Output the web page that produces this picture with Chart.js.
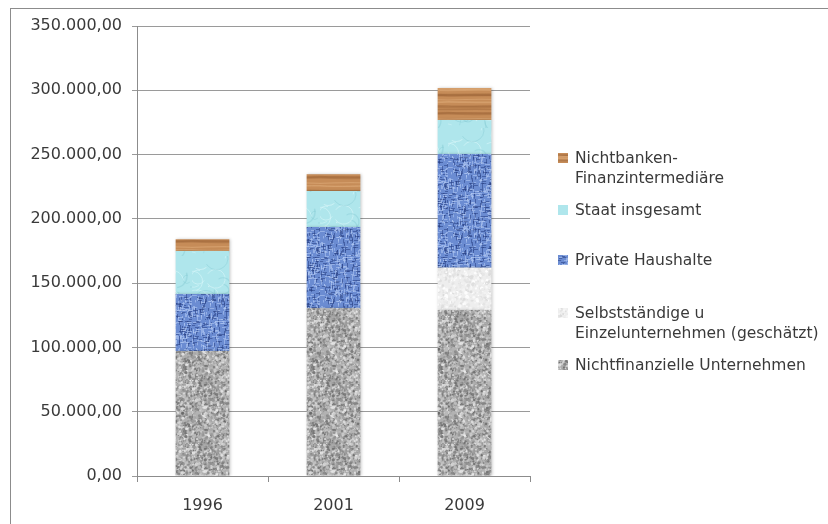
<!DOCTYPE html>
<html>
<head>
<meta charset="utf-8">
<script src="https://cdn.jsdelivr.net/npm/chart.js@4"></script>
<style>
  html, body { margin: 0; padding: 0; background: #fff; overflow: hidden; }
  #wrap { position: relative; width: 828px; height: 524px; }
  #frame { position: absolute; left: 10px; top: 8px; width: 830px; height: 530px; border: 1px solid #8c8c8c; box-sizing: border-box; }
  #chart { position: absolute; left: 0; top: 0; }
  .legend-item { position: absolute; left: 558px; font: 15.5px "DejaVu Sans", sans-serif; color: #3a3a3a; line-height: 20px; white-space: nowrap; }
  .legend-item .box { position: absolute; left: 0; top: 5px; width: 10px; height: 10px; }
  .legend-item .txt { margin-left: 17px; }
</style>
</head>
<body>
<div id="wrap">
  <div id="frame"></div>
  <canvas id="chart" width="828" height="524"></canvas>
  <div id="legend"></div>
</div>
<script>
const years = ['1996', '2001', '2009']
const seriesNames = [
  'Nichtfinanzielle Unternehmen',
  'Selbstständige u\nEinzelunternehmen (geschätzt)',
  'Private Haushalte',
  'Staat insgesamt',
  'Nichtbanken-\nFinanzintermediäre',
]
const nichtfinanzielle = [97200, 130500, 129100]
const selbststaendige = [0, 0, 32900]
const privateHaushalte = [44300, 63200, 88400]
const staat = [33500, 28000, 26500]
const nichtbanken = [9100, 12900, 24900]
const yTicks = [0, 50000, 100000, 150000, 200000, 250000, 300000, 350000]

// legend line tops (layout only)
const legendTops = [355, 303, 250, 200, 148]

// deterministic pseudo noise for the textures
let seed = 12345
function rnd() { seed = (seed * 16807) % 2147483647; return seed / 2147483647 }

function makeTexture(kind) {
  const c = document.createElement('canvas')
  c.width = 64; c.height = 64
  const g = c.getContext('2d')
  if (kind === 'granite') {
    g.fillStyle = '#b2b2b2'; g.fillRect(0, 0, 64, 64)
    for (let i = 0; i < 1800; i++) {
      const v = Math.floor(100 + rnd() * 140)
      g.fillStyle = `rgba(${v},${v},${v},0.8)`
      g.beginPath(); g.arc(rnd() * 64, rnd() * 64, 0.5 + rnd() * 1.2, 0, Math.PI * 2); g.fill()
    }
  } else if (kind === 'marble') {
    g.fillStyle = '#eeeeee'; g.fillRect(0, 0, 64, 64)
    for (let i = 0; i < 900; i++) {
      const v = Math.floor(218 + rnd() * 37)
      g.fillStyle = `rgb(${v},${v},${v})`
      g.beginPath(); g.arc(rnd() * 64, rnd() * 64, 0.5 + rnd() * 1.3, 0, Math.PI * 2); g.fill()
    }
  } else if (kind === 'linen') {
    g.fillStyle = '#6b8cd2'; g.fillRect(0, 0, 64, 64)
    for (let i = 0; i < 700; i++) {
      const x = Math.floor(rnd() * 64), y = Math.floor(rnd() * 64)
      const d = rnd()
      g.fillStyle = d < 0.45 ? 'rgba(38,62,130,0.55)' : 'rgba(175,198,242,0.6)'
      if (rnd() < 0.5) g.fillRect(x, y, 2 + rnd() * 3, 1)
      else g.fillRect(x, y, 1, 2 + rnd() * 3)
    }
  } else if (kind === 'water') {
    g.fillStyle = '#afe6ec'; g.fillRect(0, 0, 64, 64)
    for (let i = 0; i < 30; i++) {
      g.strokeStyle = rnd() < 0.6 ? 'rgba(225,250,252,0.55)' : 'rgba(130,200,210,0.4)'
      g.lineWidth = 0.7 + rnd() * 0.8
      g.beginPath()
      g.arc(rnd() * 64, rnd() * 64, 4 + rnd() * 10, rnd() * 6, rnd() * 6 + 1)
      g.stroke()
    }
  } else if (kind === 'wood') {
    g.fillStyle = '#c68c58'; g.fillRect(0, 0, 64, 64)
    for (let i = 0; i < 30; i++) {
      const y = rnd() * 64
      g.strokeStyle = rnd() < 0.6 ? 'rgba(155,100,55,0.45)' : 'rgba(225,175,125,0.5)'
      g.lineWidth = 0.8 + rnd() * 1.3
      g.beginPath()
      g.moveTo(0, y)
      g.bezierCurveTo(20, y + rnd() * 3 - 1.5, 40, y + rnd() * 3 - 1.5, 64, y)
      g.stroke()
    }
  }
  return c
}

const textures = ['granite', 'marble', 'linen', 'water', 'wood'].map(makeTexture)
const ctx = document.getElementById('chart').getContext('2d')
const fills = textures.map(t => ctx.createPattern(t, 'repeat'))

const seriesValues = [nichtfinanzielle, selbststaendige, privateHaushalte, staat, nichtbanken]

function deNumber(v) {
  const parts = v.toFixed(2).split('.')
  const int = parts[0].replace(/\B(?=(\d{3})+(?!\d))/g, '.')
  return int + ',' + parts[1]
}

const chartData = {
  labels: years,
  datasets: seriesValues.map((vals, i) => ({
    label: seriesNames[i].replace('-\n', '-').replace('\n', ' '),
    data: vals,
    backgroundColor: fills[i],
    borderWidth: 0,
  }))
}

const barShadow = {
  id: 'barShadow',
  beforeDatasetsDraw(chart) {
    const c = chart.ctx
    c.save()
    c.shadowColor = 'rgba(0,0,0,0.22)'
    c.shadowBlur = 3
    c.shadowOffsetX = 1
  },
  afterDatasetsDraw(chart) { chart.ctx.restore() }
}

const tickFont = { family: 'DejaVu Sans', size: 16 }

new Chart(ctx, {
  type: 'bar',
  data: chartData,
  plugins: [barShadow],
  options: {
    responsive: false,
    animation: false,
    categoryPercentage: 1,
    barPercentage: 0.41,
    layout: { padding: { left: 0, right: 298, top: 26, bottom: 0 } },
    scales: {
      x: {
        stacked: true,
        afterFit: s => { s.height = 48 },
        grid: { offset: true, drawOnChartArea: false, tickLength: 6, color: '#8c8c8c' },
        border: { color: '#8c8c8c' },
        ticks: { padding: 14, color: '#3a3a3a', font: tickFont }
      },
      y: {
        stacked: true,
        min: 0,
        max: 350000,
        afterFit: s => { s.width = 137 },
        afterBuildTicks: s => { s.ticks = yTicks.map(v => ({ value: v })) },
        grid: { color: '#9a9a9a', tickLength: 5, drawTicks: true },
        border: { color: '#8c8c8c' },
        ticks: {
          padding: 10,
          color: '#3a3a3a',
          font: tickFont,
          callback: v => deNumber(v)
        }
      }
    },
    plugins: {
      legend: { display: false },
      tooltip: { enabled: false }
    }
  }
})

// legend, listed top to bottom like the original
const legend = document.getElementById('legend')
seriesNames.forEach((name, i) => {
  const item = document.createElement('div')
  item.className = 'legend-item'
  item.style.top = legendTops[i] + 'px'
  const box = document.createElement('div')
  box.className = 'box'
  box.style.backgroundImage = 'url(' + textures[i].toDataURL() + ')'
  const txt = document.createElement('div')
  txt.className = 'txt'
  txt.innerHTML = name.split('\n').join('<br>')
  item.appendChild(box)
  item.appendChild(txt)
  legend.appendChild(item)
})
</script>
</body>
</html>
